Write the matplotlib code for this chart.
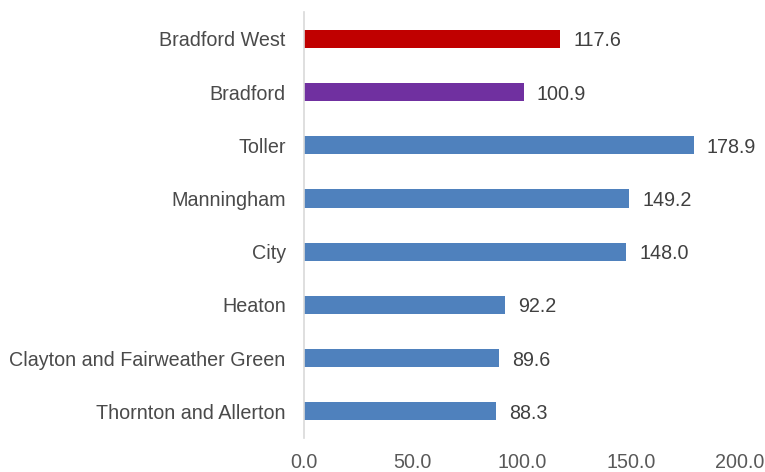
import matplotlib
matplotlib.use("Agg")
import matplotlib.pyplot as plt

categories = ["Bradford West", "Bradford", "Toller", "Manningham", "City",
              "Heaton", "Clayton and Fairweather Green", "Thornton and Allerton"]
values = [117.6, 100.9, 178.9, 149.2, 148.0, 92.2, 89.6, 88.3]
colors = ["#c00000", "#7030a0"] + ["#4f81bd"] * 6
xticks = [0, 50, 100, 150, 200]

plt.rcParams['font.family'] = ['Liberation Sans', 'DejaVu Sans']
fig = plt.figure(figsize=(7.65, 4.72), dpi=100)
ax = fig.add_axes([0.397, 0.072, 0.570, 0.902])

fs = 14.2
ypos = list(range(len(categories)))
ax.barh(ypos, values, height=0.34, color=colors)
ax.set_ylim(len(categories) - 0.5, -0.5)
ax.set_xlim(0, 200)
ax.set_yticks(ypos)
ax.set_yticklabels(categories, fontsize=fs, color="#4a4a4a")
ax.set_xticks(xticks)
ax.set_xticklabels([f"{t:.1f}" for t in xticks], fontsize=fs, color="#595959")
ax.tick_params(axis='both', length=0)
ax.tick_params(axis='y', pad=13)
ax.tick_params(axis='x', pad=11)
for s in ["top", "right", "bottom"]:
    ax.spines[s].set_visible(False)
ax.spines["left"].set_color("#d9d9d9")
ax.spines["left"].set_linewidth(1.2)

for y, v in zip(ypos, values):
    ax.text(v + 6, y, f"{v:.1f}", va="center_baseline", ha="left", fontsize=fs, color="#404040")

fig.savefig("out.png", dpi=100)
